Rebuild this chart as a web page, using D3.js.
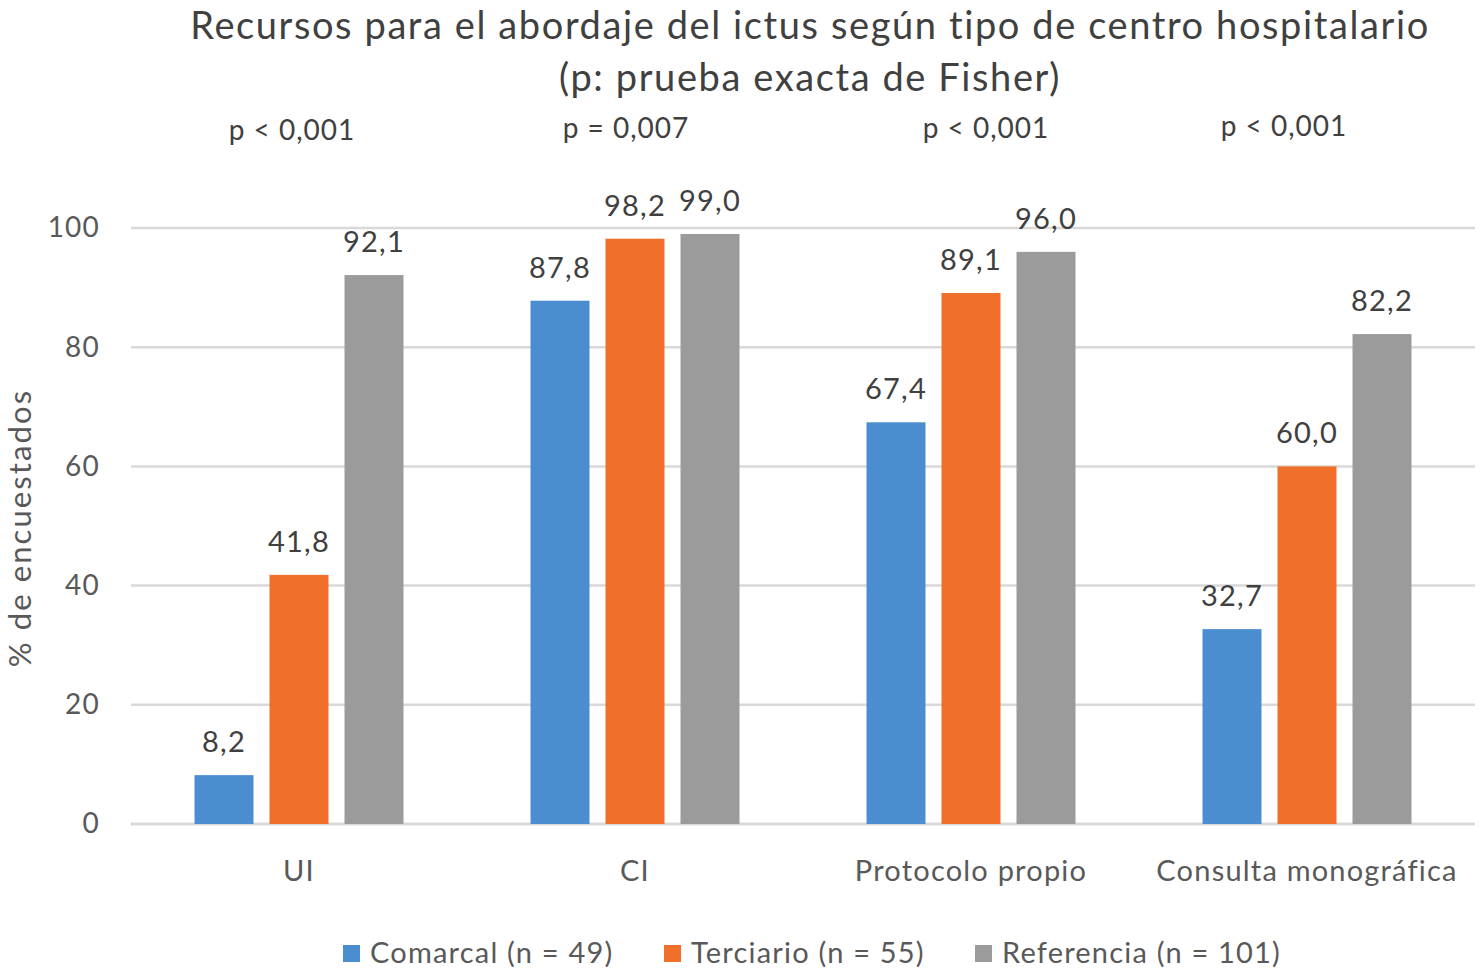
<!DOCTYPE html>
<html>
<head>
<meta charset="utf-8">
<script src="https://cdn.jsdelivr.net/npm/d3@7"></script>
<style>
  body { margin: 0; background: #fff; }
  text { font-family: Lato, "Open Sans", sans-serif; }
</style>
</head>
<body>
<div id="chart"></div>
<script>
// data
const categories = ["UI", "CI", "Protocolo propio", "Consulta monográfica"];
const seriesNames = ["Comarcal (n = 49)", "Terciario (n = 55)", "Referencia (n = 101)"];
const comarcal = [8.2, 87.8, 67.4, 32.7];
const terciario = [41.8, 98.2, 89.1, 60.0];
const referencia = [92.1, 99.0, 96.0, 82.2];
const pValues = ["p < 0,001", "p = 0,007", "p < 0,001", "p < 0,001"];
const yTicks = [0, 20, 40, 60, 80, 100];
const colors = ["#4a8ecf", "#ef6f2b", "#9b9b9b"];

const W = 1480, H = 975;
const plot = {left: 131, right: 1475, top: 228, bottom: 824};
// p-value labels sit a little off the band centres in the original
const pShift = [-7, -9, 15, -23];
const pY = [140, 138, 138, 136];

const svg = d3.select("#chart").append("svg")
    .attr("width", W)
    .attr("height", H);

const x0 = d3.scaleBand()
    .domain(categories)
    .range([plot.left, plot.right])
    .padding(0);

const x1 = d3.scaleBand()
    .domain(seriesNames)
    .range([63.5, 272.5])
    .paddingInner(0.2133)
    .paddingOuter(0);

const y = d3.scaleLinear()
    .domain([0, 100])
    .range([plot.bottom, plot.top]);

// title
svg.append("text")
    .attr("x", 810).attr("y", 39)
    .attr("text-anchor", "middle")
    .attr("font-size", 38)
    .attr("letter-spacing", 1.6)
    .attr("fill", "#404040")
    .text("Recursos para el abordaje del ictus según tipo de centro hospitalario");
svg.append("text")
    .attr("x", 810).attr("y", 91)
    .attr("text-anchor", "middle")
    .attr("font-size", 38)
    .attr("letter-spacing", 1.6)
    .attr("fill", "#404040")
    .text("(p: prueba exacta de Fisher)");

// gridlines
svg.append("g")
  .selectAll("line")
  .data(yTicks)
  .join("line")
    .attr("x1", plot.left).attr("x2", plot.right)
    .attr("y1", d => y(d)).attr("y2", d => y(d))
    .attr("stroke", "#d9d9d9")
    .attr("stroke-width", d => d === 0 ? 3 : 2.5);

// y axis labels
const yAxis = svg.append("g")
    .attr("transform", `translate(${plot.left - 31},0)`)
    .call(d3.axisLeft(y).tickValues(yTicks).tickSize(0).tickPadding(0));
yAxis.select(".domain").remove();
yAxis.selectAll("text")
    .attr("font-size", 28)
    .attr("letter-spacing", 1.2)
    .attr("fill", "#595959")
    .attr("font-family", "Lato, sans-serif");

svg.append("text")
    .attr("transform", `translate(31,${(plot.top + plot.bottom) / 2 + 2}) rotate(-90)`)
    .attr("text-anchor", "middle")
    .attr("font-size", 31)
    .attr("letter-spacing", 2.1)
    .attr("fill", "#595959")
    .text("% de encuestados");

// x axis labels
const xAxis = svg.append("g")
    .attr("transform", `translate(0,${plot.bottom})`)
    .call(d3.axisBottom(x0).tickSize(0).tickPadding(36));
xAxis.select(".domain").remove();
xAxis.selectAll("text")
    .attr("font-size", 29)
    .attr("letter-spacing", 1.2)
    .attr("fill", "#595959")
    .attr("font-family", "Lato, sans-serif");

// p-values
svg.append("g")
  .selectAll("text")
  .data(pValues)
  .join("text")
    .attr("x", (d, i) => x0(categories[i]) + x0.bandwidth() / 2 + pShift[i])
    .attr("y", (d, i) => pY[i])
    .attr("text-anchor", "middle")
    .attr("font-size", 28)
    .attr("letter-spacing", 1)
    .attr("fill", "#404040")
    .text(d => d);

// bars
const allSeries = [comarcal, terciario, referencia];
const rows = categories.map((c, i) => seriesNames.map((s, j) => ({cat: c, series: s, j: j, value: allSeries[j][i]})));

const groups = svg.append("g")
  .selectAll("g")
  .data(rows)
  .join("g")
    .attr("transform", (d, i) => `translate(${x0(categories[i])},0)`);

groups.selectAll("rect")
  .data(d => d)
  .join("rect")
    .attr("x", d => x1(d.series))
    .attr("width", x1.bandwidth())
    .attr("y", d => y(d.value))
    .attr("height", d => y(0) - y(d.value))
    .attr("fill", d => colors[d.j]);

groups.selectAll("text")
  .data(d => d)
  .join("text")
    .attr("x", d => x1(d.series) + x1.bandwidth() / 2)
    .attr("y", d => y(d.value) - 23)
    .attr("text-anchor", "middle")
    .attr("font-size", 29)
    .attr("letter-spacing", 1.2)
    .attr("fill", "#404040")
    .text(d => d3.format(".1f")(d.value).replace(".", ","));

// legend
const legendX = [343, 664, 975];
const legend = svg.append("g")
  .selectAll("g")
  .data(seriesNames)
  .join("g")
    .attr("transform", (d, i) => `translate(${legendX[i]},945)`);
legend.append("rect")
    .attr("width", 17).attr("height", 17)
    .attr("fill", (d, i) => colors[i]);
legend.append("text")
    .attr("x", 27).attr("y", 18)
    .attr("font-size", 29)
    .attr("letter-spacing", 1.2)
    .attr("fill", "#595959")
    .text(d => d);
</script>
</body>
</html>
